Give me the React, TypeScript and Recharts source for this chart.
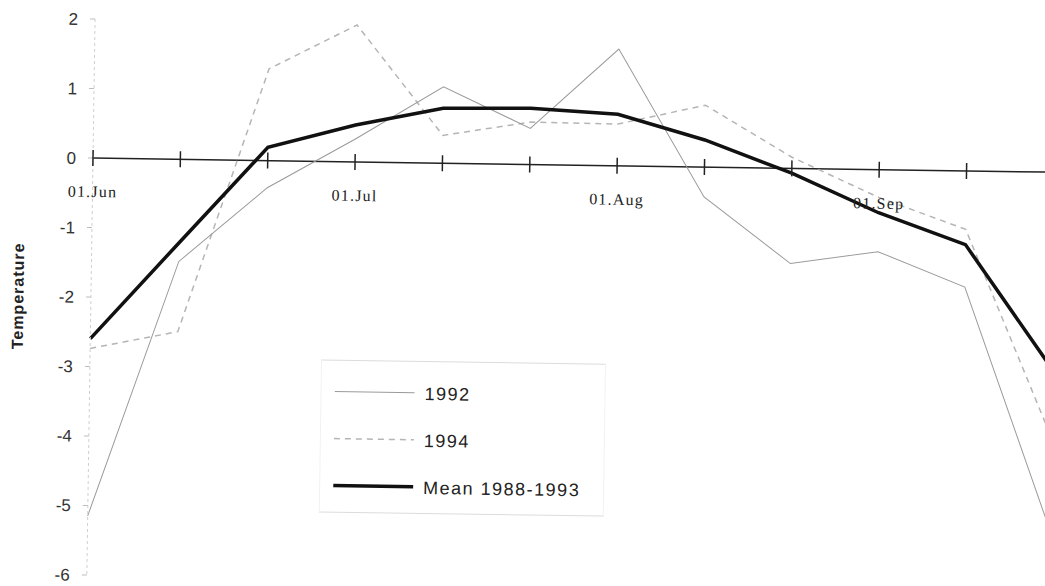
import React from "react";
import {
  LineChart,
  Line,
  XAxis,
  YAxis,
  ReferenceLine,
  ReferenceDot,
} from "recharts";

// days after 01.Jun, one point every 10 days
const days = [0, 10, 20, 30, 40, 50, 60, 70, 80, 90, 100, 110];
const temp1992 = [-5.15, -1.47, -0.39, 0.33, 1.1, 0.52, 1.68, -0.43, -1.37, -1.18, -1.67, -5.1];
const temp1994 = [-2.74, -2.48, 1.32, 1.97, 0.4, 0.61, 0.6, 0.89, 0.16, -0.4, -0.84, -3.77];
const meanTemp = [-2.6, -1.2, 0.19, 0.53, 0.79, 0.81, 0.74, 0.39, -0.07, -0.62, -1.06, -2.81];

const tickDays = [0, 10, 20, 30, 40, 50, 60, 70, 80, 90, 100];
const monthDays = [0, 30, 60, 90];
const monthLabels = ["01.Jun", "01.Jul", "01.Aug", "01.Sep"];
const yTicks = [-6, -5, -4, -3, -2, -1, 0, 1, 2];

const data = days.map((d, i) => ({
  day: d,
  y1992: temp1992[i],
  y1994: temp1994[i],
  mean: meanTemp[i],
}));

const sans = "'Liberation Sans', Arial, sans-serif";
const serif = "'Liberation Serif', 'Times New Roman', serif";

const legendRows = [
  { label: "1992", stroke: "#9a9a9a", width: 1, dash: undefined as string | undefined },
  { label: "1994", stroke: "#b5b5b5", width: 1.5, dash: "6 5" },
  { label: "Mean 1988-1993", stroke: "#111", width: 3.5, dash: undefined },
];

function LegendBox() {
  return (
    <div
      style={{
        position: "absolute",
        left: 324,
        top: 356,
        width: 285,
        height: 153,
        borderTop: "1px solid #dcdcdc",
        borderBottom: "1px solid #dcdcdc",
        borderLeft: "1px solid #f2f2f2",
        borderRight: "1px solid #f2f2f2",
        boxSizing: "border-box",
      }}
    >
      {legendRows.map((r, i) => (
        <div
          key={r.label}
          style={{
            position: "absolute",
            left: 13,
            top: 20 + i * 47,
            height: 24,
            display: "flex",
            alignItems: "center",
          }}
        >
          <svg width={82} height={10} style={{ marginRight: 8 }}>
            <line x1={0} x2={80} y1={4} y2={4} stroke={r.stroke} strokeWidth={r.width} strokeDasharray={r.dash} />
          </svg>
          <span style={{ fontFamily: sans, fontSize: 18, letterSpacing: 1.5, color: "#222" }}>{r.label}</span>
        </div>
      ))}
    </div>
  );
}

export default function App() {
  return (
    <div
      style={{
        position: "fixed",
        left: 0,
        top: 0,
        width: 1045,
        height: 586,
        overflow: "hidden",
        background: "#fff",
      }}
    >
      {/* the scan is tilted a little clockwise */}
      <div style={{ position: "relative", transform: "rotate(0.85deg)", transformOrigin: "93px 158px" }}>
        <LineChart width={1054} height={586} data={data} margin={{ top: 19, right: 0, bottom: 11, left: 0 }}>
          <XAxis dataKey="day" type="number" domain={[0, 110]} hide />
          <YAxis
            domain={[-6, 2]}
            ticks={yTicks}
            interval={0}
            width={93}
            axisLine={{ stroke: "#cfcfcf", strokeDasharray: "3 3" }}
            tickLine={{ stroke: "#bdbdbd" }}
            tickSize={5}
            tickMargin={12}
            tick={{ fill: "#333", fontSize: 17, fontFamily: sans }}
            label={{
              content: () => (
                <text
                  x={20}
                  y={297}
                  transform="rotate(-90 20 297)"
                  textAnchor="middle"
                  dominantBaseline="central"
                  fill="#222"
                  fontSize={16}
                  fontWeight={700}
                  fontFamily={sans}
                  letterSpacing={1}
                >
                  Temperature
                </text>
              ),
            }}
          />
          <ReferenceLine y={0} stroke="#222" strokeWidth={1.5} />
          {tickDays.map((d) => (
            <ReferenceDot
              key={"t" + d}
              x={d}
              y={0}
              r={0}
              shape={(p: any) => (
                <line x1={p.cx} x2={p.cx} y1={p.cy - 8} y2={p.cy + 8} stroke="#222" strokeWidth={1.5} />
              )}
            />
          ))}
          {monthDays.map((d, i) => (
            <ReferenceDot
              key={"m" + d}
              x={d}
              y={0}
              r={0}
              shape={(p: any) => (
                <text
                  x={p.cx}
                  y={p.cy + 39}
                  textAnchor="middle"
                  fill="#222"
                  fontSize={16}
                  fontFamily={serif}
                  letterSpacing={1.2}
                >
                  {monthLabels[i]}
                </text>
              )}
            />
          ))}
          <Line
            dataKey="y1994"
            type="linear"
            stroke="#b5b5b5"
            strokeWidth={1.5}
            strokeDasharray="6 5"
            dot={false}
            activeDot={false}
            isAnimationActive={false}
          />
          <Line
            dataKey="y1992"
            type="linear"
            stroke="#9a9a9a"
            strokeWidth={1}
            dot={false}
            activeDot={false}
            isAnimationActive={false}
          />
          <Line
            dataKey="mean"
            type="linear"
            stroke="#111"
            strokeWidth={3.5}
            dot={false}
            activeDot={false}
            isAnimationActive={false}
          />
        </LineChart>
        <LegendBox />
      </div>
    </div>
  );
}
